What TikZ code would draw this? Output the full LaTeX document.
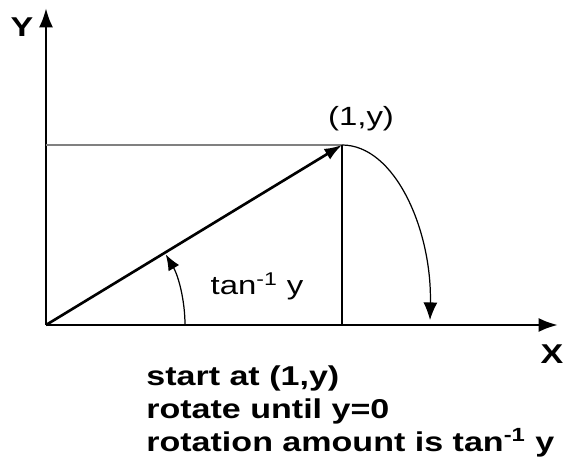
\documentclass[tikz,border=0pt]{standalone}
\usepackage{fontspec}
\setmainfont[FakeStretch=1.25]{Liberation Sans}
\usetikzlibrary{arrows.meta}
\tikzset{
  axis/.style={line width=1.6pt,-{Latex[length=11pt,width=8pt]}},
  vec/.style={line width=1.5pt,-{Latex[length=10pt,width=7pt]}},
  thin line/.style={line width=0.7pt},
  axis label/.style={font=\fontsize{15.5}{18}\selectfont\bfseries},
  plain label/.style={font=\fontsize{15}{18}\selectfont}
}
\begin{document}
\begin{tikzpicture}[x=0.02cm,y=-0.02cm]
\useasboundingbox (0,0) rectangle (563,472);
\coordinate (O) at (46,325);
\coordinate (Ytop) at (46,8);
\coordinate (Xend) at (558,325);
\coordinate (P) at (342,145);
\coordinate (Pfoot) at (342,325);
\coordinate (Pleft) at (46,145);
\coordinate (Land) at (430,320);
% axes
\draw[axis] (O) -- (Ytop);
\draw[axis] (O) -- (Xend);
\node[axis label] (ylab) at (22,27) {Y};
\node[axis label] (xlab) at (552,354) {X};
% projections
\draw[thin line,gray] (Pleft) -- (P);
\draw[thin line] (P) -- (Pfoot);
% the vector
\draw[vec] (O) -- (P);
\node[plain label] (plab) at (361,119) {(1,y)};
% rotation down to the axis
\draw[thin line,-{Latex[length=10pt,width=8pt]}] (P) .. controls (395,145) and (432,230) .. (Land);
% angle
\draw[thin line,-{Latex[length=9pt,width=7pt]}] (185,325) arc[start angle=0,end angle=-30.5,radius=139];
\node[plain label] (alab) at (257,286) {tan\textsuperscript{-1} y};
% notes
\node[anchor=north west,align=left,inner sep=0pt,font=\fontsize{15.5}{18.8}\selectfont\bfseries] (note) at (146,365)
  {start at (1,y)\\rotate until y=0\\rotation amount is tan\textsuperscript{-1} y};
\end{tikzpicture}
\end{document}
